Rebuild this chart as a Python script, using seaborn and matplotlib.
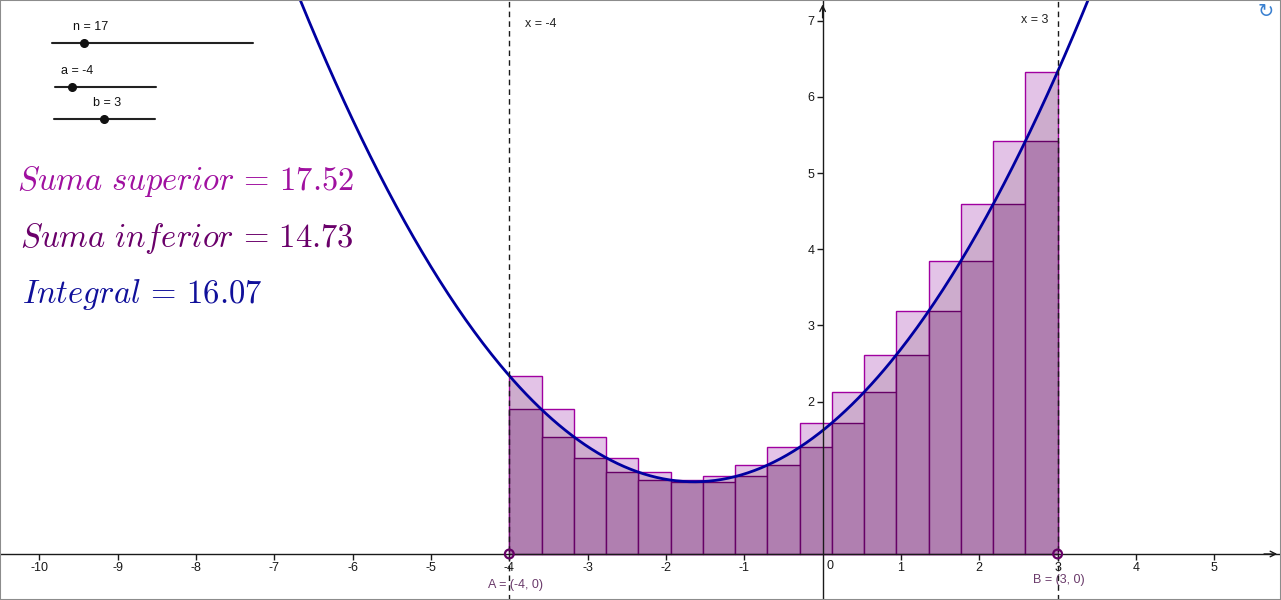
import numpy as np
import matplotlib
matplotlib.use("Agg")
import matplotlib.pyplot as plt
import seaborn as sns
from matplotlib.patches import Rectangle
from matplotlib.lines import Line2D

sns.set_theme(style="white")
plt.rcParams['font.family'] = ['Liberation Sans', 'DejaVu Sans']
plt.rcParams['mathtext.fontset'] = 'cm'
plt.rcParams['axes.unicode_minus'] = False

# f(x) = c2*x^2 + c1*x + c0
coef = [0.25, 0.82, 1.62]
a_val, b_val, n_val = -4, 3, 17

# partition of [a, b] in 17 parts and rectangle heights
edges = [-4.0, -3.588, -3.176, -2.765, -2.353, -1.941, -1.529, -1.118, -0.706,
         -0.294, 0.118, 0.529, 0.941, 1.353, 1.765, 2.176, 2.588, 3.0]
upper = [2.34, 1.90, 1.54, 1.26, 1.07, 0.97, 1.02, 1.17, 1.40, 1.72, 2.12,
         2.61, 3.19, 3.85, 4.59, 5.42, 6.33]
lower = [1.90, 1.54, 1.26, 1.07, 0.97, 0.95, 0.95, 1.02, 1.17, 1.40, 1.72,
         2.12, 2.61, 3.19, 3.85, 4.59, 5.42]

sum_sup = 17.52
sum_inf = 14.73
integral = 16.07

x_ticks = [-10, -9, -8, -7, -6, -5, -4, -3, -2, -1, 1, 2, 3, 4, 5]
y_ticks = [1, 2, 3, 4, 5, 6, 7]

W, H = 1281, 600
fig = plt.figure(figsize=(W / 100, H / 100), dpi=100)
ax = fig.add_axes([0, 0, 1, 1])
ax.set_xlim(-10.502, 5.852)
ax.set_ylim(-0.604, 7.271)

left = np.array(edges[:-1])
widths = np.diff(edges)

# upper sum fill
ax.bar(left, upper, width=widths, align='edge', color='#e3c3e7', linewidth=0, zorder=1)
# integral area under the curve
xs_int = np.linspace(a_val, b_val, 300)
ax.fill_between(xs_int, 0, np.polyval(coef, xs_int), color='#cdaccd', linewidth=0, zorder=2)
# upper sum outlines
ax.bar(left, upper, width=widths, align='edge', fill=False, edgecolor='#a000a0', linewidth=1, zorder=3)
# lower sum
ax.bar(left, lower, width=widths, align='edge', color='#b07fb0', edgecolor='#660066', linewidth=1, zorder=4)

xs = np.linspace(-10.6, 6.0, 600)
sns.lineplot(x=xs, y=np.polyval(coef, xs), color='#0000a0', linewidth=2, ax=ax, zorder=5)

for xv in (a_val, b_val):
    ax.axvline(xv, color='k', linestyle=(0, (4, 3)), linewidth=1, zorder=6)
ax.text(-3.8, 6.96, 'x = -4', fontsize=9, color='#222222', va='center', ha='left')
ax.text(2.53, 7.01, 'x = 3', fontsize=9, color='#222222', va='center', ha='left')

ax.scatter([a_val, b_val], [0, 0], s=40, facecolors='none', edgecolors='#660066', linewidths=1.6, zorder=8)
ax.text(-4.27, -0.41, 'A = (-4, 0)', fontsize=9, color='#6a3a6a', va='center', ha='left')
ax.text(2.69, -0.34, 'B = (3, 0)', fontsize=9, color='#6a3a6a', va='center', ha='left')

# axes through the origin
for s in ('top', 'right'):
    ax.spines[s].set_visible(False)
ax.spines['left'].set_position(('data', 0))
ax.spines['bottom'].set_position(('data', 0))
for s in ('left', 'bottom'):
    ax.spines[s].set_color('k')
    ax.spines[s].set_linewidth(1)
    ax.spines[s].set_zorder(7)
ax.set_xticks(x_ticks)
ax.set_yticks(y_ticks)
ax.tick_params(axis='both', direction='out', length=4, width=1, colors='k',
               labelsize=9, bottom=True, left=True, pad=2)
ax.annotate('', xy=(5.84, 0), xytext=(5.6, 0),
            arrowprops=dict(arrowstyle='->', color='k', lw=1, mutation_scale=10))
ax.annotate('', xy=(0, 7.25), xytext=(0, 7.0),
            arrowprops=dict(arrowstyle='->', color='k', lw=1, mutation_scale=10))
ax.text(0.1, -0.16, '0', fontsize=9, color='k', ha='center', va='center')
ax.text(-0.15, 0.09, '0', fontsize=9, color='k', ha='center', va='center')

# sliders (screen widgets, in pixel positions)
def px(x, y):
    return x / W, 1 - y / H

sliders = [('n = %d' % n_val, 52, 253, 43, 84, 73, 27),
           ('a = %d' % a_val, 55, 156, 87, 72, 61, 71),
           ('b = %d' % b_val, 54, 155, 119, 104, 93, 103)]
for lab, x1, x2, yl, xd, xt, yt in sliders:
    p1, p2 = px(x1, yl), px(x2, yl)
    fig.add_artist(Line2D([p1[0], p2[0]], [p1[1], p2[1]], transform=fig.transFigure,
                          color='#222222', lw=1.5))
    pd_ = px(xd, yl)
    fig.add_artist(Line2D([pd_[0]], [pd_[1]], transform=fig.transFigure, marker='o',
                          markersize=5.5, color='#111111'))
    pt = px(xt, yt)
    fig.text(pt[0], pt[1], lab, fontsize=9, color='#111111', ha='left', va='center')

fig.text(*px(17, 190), r'$Suma\ superior\,=\,%.2f$' % sum_sup, fontsize=23.5, color='#a010a0', va='baseline')
fig.text(*px(20, 247), r'$Suma\ inferior\,=\,%.2f$' % sum_inf, fontsize=23.5, color='#6a006a', va='baseline')
fig.text(*px(22, 303), r'$Integral\,=\,%.2f$' % integral, fontsize=23.5, color='#10109a', va='baseline')

fig.text(*px(1266, 12), '\u21bb', fontsize=14, color='#3a80d0', ha='center', va='center',
         family='DejaVu Sans')

fig.add_artist(Rectangle((0, 0), 1, 1, transform=fig.transFigure, fill=False,
                         edgecolor='#8c8c8c', linewidth=1.5))

fig.savefig('out.png', dpi=100)
